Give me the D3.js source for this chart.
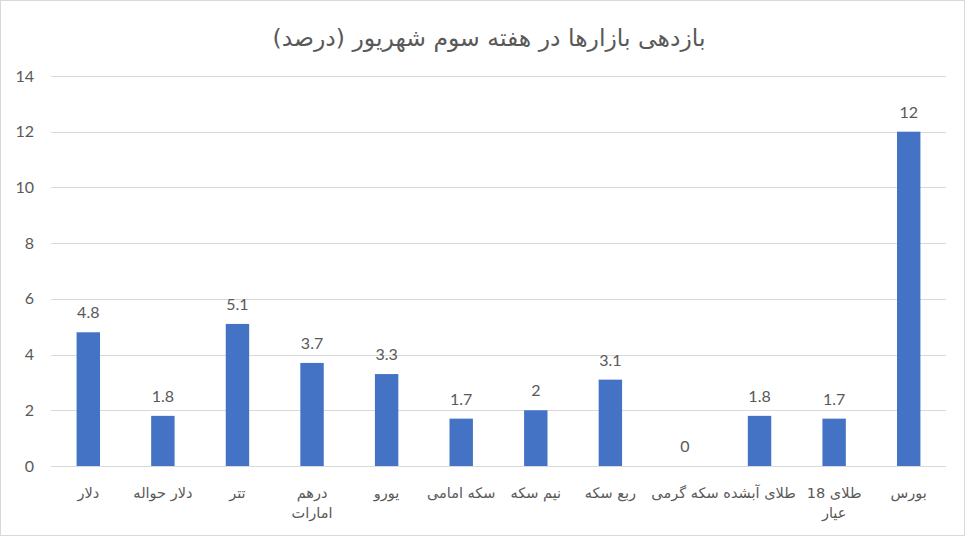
<!DOCTYPE html>
<html><head><meta charset="utf-8">
<script src="https://cdn.jsdelivr.net/npm/d3@7/dist/d3.min.js"></script>
<style>
html,body{margin:0;padding:0;background:#fff;}
svg{display:block;}
text{fill:#595959;}
</style></head>
<body>
<svg id="chart" width="969" height="537"></svg>
<script>
const title = "بازدهی بازارها در هفته سوم شهریور (درصد)";
const categories = [["دلار"],["دلار حواله"],["تتر"],["درهم","امارات"],["یورو"],["سکه امامی"],["نیم سکه"],["ربع سکه"],["سکه گرمی"],["طلای آبشده"],["طلای 18","عیار"],["بورس"]];
const values = [4.8,1.8,5.1,3.7,3.3,1.7,2,3.1,0,1.8,1.7,12];
const yTicks = [0,2,4,6,8,10,12,14];

const svg = d3.select("#chart");
const W = 969, H = 537;
svg.append("rect").attr("x",0.5).attr("y",0.5).attr("width",W-5).attr("height",H-2)
  .attr("fill","#fff").attr("stroke","#d9d9d9");

const m = {left:51, right:W-946, top:76, bottom:H-466};
const x = d3.scaleBand().domain(d3.range(categories.length)).range([m.left, W-m.right]).paddingInner(0.686).paddingOuter(0.343);
const y = d3.scaleLinear().domain([0,14]).range([466,76]);

svg.append("text").attr("x",489).attr("y",46).attr("text-anchor","middle")
  .attr("direction","rtl").style("font-family","'DejaVu Sans', sans-serif").style("font-size","23.5px").text(title);

// gridlines
svg.append("g").selectAll("line").data(yTicks).join("line")
  .attr("x1",m.left).attr("x2",W-m.right).attr("y1",d=>Math.round(y(d))+0.5).attr("y2",d=>Math.round(y(d))+0.5)
  .attr("stroke","#d9d9d9").attr("stroke-width",1);

// y axis labels
const yAxis = d3.axisLeft(y).tickValues(yTicks).tickSize(0).tickPadding(0);
const gy = svg.append("g").attr("transform","translate(34,0)").call(yAxis);
gy.select(".domain").remove();
gy.selectAll("text").style("font-family","Lato, 'Liberation Sans', sans-serif").style("font-size","16px").attr("fill","#595959");

// bars
svg.append("g").selectAll("rect").data(values).join("rect")
  .attr("x",(d,i)=>x(i)).attr("width",x.bandwidth())
  .attr("y",d=>y(d)).attr("height",d=>y(0)-y(d)).attr("fill","#4472c4");

// value labels
svg.append("g").selectAll("text").data(values).join("text")
  .attr("x",(d,i)=>x(i)+x.bandwidth()/2).attr("y",d=>y(d)-14)
  .attr("text-anchor","middle").style("font-family","Lato, 'Liberation Sans', sans-serif").style("font-size","16px")
  .text(d=>d);

// x labels
const xl = svg.append("g").selectAll("text").data(categories).join("text")
  .attr("x",(d,i)=>x(i)+x.bandwidth()/2).attr("y",498)
  .attr("text-anchor","middle").attr("direction","rtl")
  .style("font-family","'DejaVu Sans', sans-serif").style("font-size","14.5px");
xl.each(function(d,i){
  const t = d3.select(this);
  d.forEach((s,k)=>{
    t.append("tspan").attr("x",x(i)+x.bandwidth()/2).attr("dy",k?20:0).text(s);
  });
});
</script>
</body></html>
